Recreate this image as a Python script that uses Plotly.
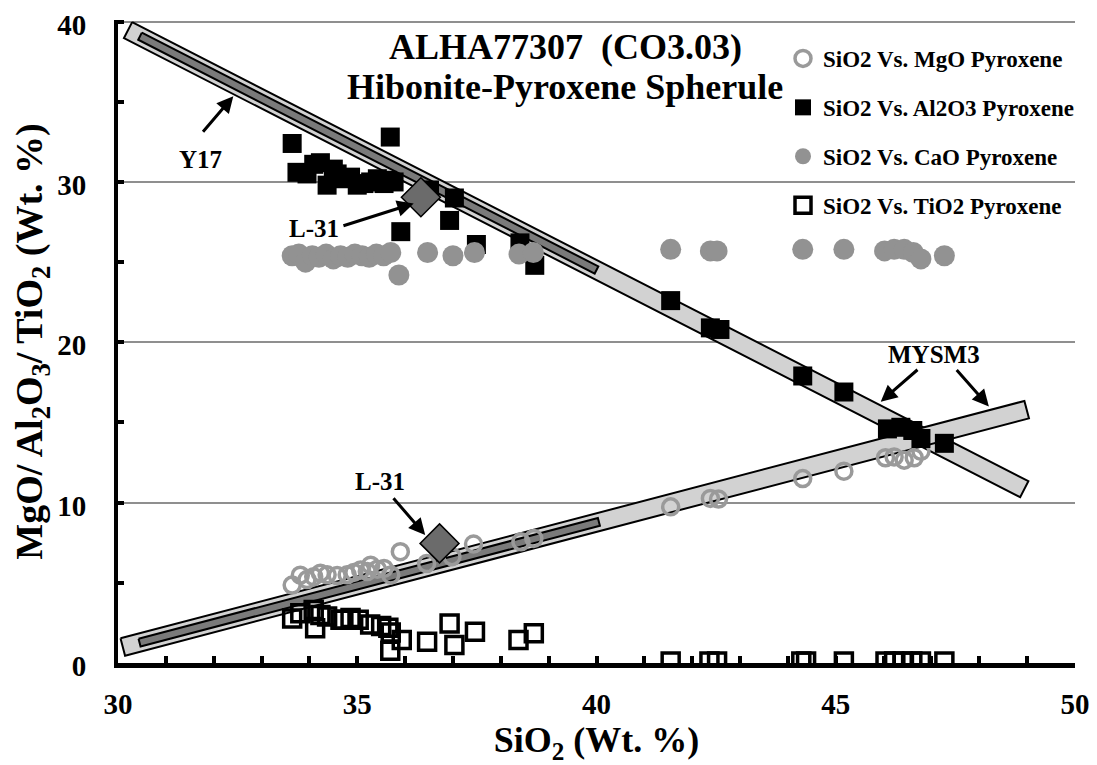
import math
import plotly.graph_objects as go

# ---------------- data ----------------
mgo_x = [33.64, 33.81, 33.95, 34.09, 34.23, 34.37, 34.58, 34.79, 34.93, 35.07, 35.21, 35.28,
         35.42, 35.56, 35.70, 35.90, 36.45, 36.98, 37.43, 38.42, 38.69,
         41.55, 42.38, 42.55, 44.31, 45.17, 46.04, 46.22, 46.43, 46.64, 46.78]
mgo_y = [4.86, 5.48, 5.20, 5.38, 5.60, 5.50, 5.45, 5.50, 5.65, 5.80, 5.70, 6.10,
         5.85, 5.90, 5.49, 6.94, 6.20, 6.63, 7.42, 7.56, 7.77,
         9.74, 10.26, 10.22, 11.50, 11.96, 12.80, 12.85, 12.65, 12.80, 13.20]

al2o3_x = [33.64, 33.74, 33.95, 34.09, 34.23, 34.37, 34.50, 34.58, 34.72, 34.86, 35.00, 35.14,
           35.28, 35.42, 35.56, 35.63, 35.69, 35.77, 35.91, 36.51, 36.93, 37.03, 37.49, 38.40,
           38.71, 41.55, 42.38, 42.58, 44.31, 45.17, 46.08, 46.36, 46.61, 46.78, 47.27]
al2o3_y = [32.4, 30.6, 30.5, 31.1, 31.2, 29.8, 30.8, 30.5, 30.2, 30.3, 29.8, 29.9,
           30.0, 30.2, 29.9, 30.1, 32.8, 30.0, 26.9, 29.5, 27.6, 29.0, 26.1, 26.2,
           24.8, 22.6, 20.9, 20.8, 17.9, 16.9, 14.6, 14.7, 14.5, 14.0, 13.7]

cao_x = [33.64, 33.78, 33.92, 34.06, 34.20, 34.35, 34.50, 34.65, 34.80, 34.95, 35.10, 35.25,
         35.40, 35.55, 35.70, 35.87, 36.47, 37.00, 37.45, 38.38, 38.68,
         41.55, 42.38, 42.52, 44.31, 45.17, 46.02, 46.22, 46.43, 46.62, 46.78, 47.27]
cao_y = [25.4, 25.5, 25.0, 25.4, 25.3, 25.5, 25.2, 25.4, 25.3, 25.5, 25.4, 25.3,
         25.5, 25.4, 25.6, 24.2, 25.6, 25.4, 25.6, 25.5, 25.6,
         25.8, 25.7, 25.7, 25.8, 25.8, 25.7, 25.8, 25.8, 25.6, 25.2, 25.4]

tio2_x = [33.64, 33.81, 34.09, 34.12, 34.23, 34.37, 34.65, 34.71, 34.86, 35.03, 35.27, 35.50,
          35.65, 35.69, 35.70, 35.93, 36.46, 36.93, 37.03, 37.46, 38.37, 38.69,
          41.55, 42.36, 42.52, 44.28, 44.38, 45.17, 46.04, 46.22, 46.40, 46.60, 46.78, 47.27]
tio2_y = [2.78, 3.10, 3.30, 2.16, 3.00, 2.90, 2.70, 2.70, 2.80, 2.70, 2.40, 2.30,
          2.20, 0.77, 1.90, 1.43, 1.33, 2.47, 1.12, 1.95, 1.43, 1.85,
          0.10, 0.10, 0.10, 0.10, 0.10, 0.10, 0.10, 0.10, 0.10, 0.10, 0.10, 0.10]

l31_x = [36.33, 36.72]
l31_y = [29.05, 7.46]

# reference bands (end points of centre lines)
desc_band_x = [30.21, 48.94]
desc_band_y = [39.47, 10.84]
asc_band_x = [30.10, 48.99]
asc_band_y = [1.00, 15.80]
desc_inner_x = [30.46, 40.00]
desc_inner_y = [39.09, 24.51]
asc_inner_x = [30.45, 40.05]
asc_inner_y = [1.27, 8.80]

x_ticks = [30, 35, 40, 45, 50]
y_ticks = [0, 10, 20, 30, 40]

# ---------------- layout geometry ----------------
# the page body has an 8 px margin, so the figure is drawn 8 px in from the corner
FIG_W, FIG_H = 1089, 757
M_L, M_T = 110, 12
PW, PH = 957, 643
M_R = FIG_W - M_L - PW
M_B = FIG_H - M_T - PH
X0, X1, Y0, Y1 = 30, 50, 0, 40.1
PAGE_OFF = 8

FONT = "Liberation Serif"


def band_polygon(xs, ys, width_px):
    """Rectangle of a given pixel thickness around a data-space segment."""
    sx = PW / (X1 - X0)
    sy = PH / (Y1 - Y0)
    ax, ay = (xs[0] - X0) * sx, (ys[0] - Y0) * sy
    bx, by = (xs[1] - X0) * sx, (ys[1] - Y0) * sy
    dx, dy = bx - ax, by - ay
    L = math.hypot(dx, dy)
    nx, ny = -dy / L * width_px / 2, dx / L * width_px / 2
    pts = [(ax + nx, ay + ny), (bx + nx, by + ny), (bx - nx, by - ny), (ax - nx, ay - ny), (ax + nx, ay + ny)]
    return [p[0] / sx + X0 for p in pts], [p[1] / sy + Y0 for p in pts]


def paper_x(page_px):
    return (page_px - PAGE_OFF - M_L) / PW


def paper_y(page_py):
    return (M_T + PH - (page_py - PAGE_OFF)) / PH


fig = go.Figure()

for bx, by, w, fill in [(desc_band_x, desc_band_y, 18, "#d2d2d2"),
                        (asc_band_x, asc_band_y, 18, "#d2d2d2"),
                        (desc_inner_x, desc_inner_y, 8, "#7a7a7a"),
                        (asc_inner_x, asc_inner_y, 8, "#7a7a7a")]:
    px_, py_ = band_polygon(bx, by, w)
    fig.add_trace(go.Scatter(x=px_, y=py_, mode="lines", fill="toself", fillcolor=fill,
                             line=dict(color="black", width=2), showlegend=False, hoverinfo="skip"))

fig.add_trace(go.Scatter(x=mgo_x, y=mgo_y, mode="markers", name="SiO2 Vs. MgO Pyroxene",
                         legendgroup="a",
                         marker=dict(symbol="circle-open", size=16, color="#9a9a9a",
                                     line=dict(width=3.5, color="#9a9a9a"))))
fig.add_trace(go.Scatter(x=al2o3_x, y=al2o3_y, mode="markers", name="SiO2 Vs. Al2O3 Pyroxene",
                         legendgroup="b",
                         marker=dict(symbol="square", size=19, color="black")))
fig.add_trace(go.Scatter(x=cao_x, y=cao_y, mode="markers", name="SiO2 Vs. CaO Pyroxene",
                         legendgroup="c",
                         marker=dict(symbol="circle", size=21, color="#929292")))
fig.add_trace(go.Scatter(x=tio2_x, y=tio2_y, mode="markers", name="SiO2 Vs. TiO2 Pyroxene",
                         legendgroup="d",
                         marker=dict(symbol="square-open", size=17, color="black",
                                     line=dict(width=3.5, color="black"))))
fig.add_trace(go.Scatter(x=l31_x, y=l31_y, mode="markers", showlegend=False,
                         marker=dict(symbol="diamond", size=30, color="#6b6b6b",
                                     line=dict(width=1.5, color="black"))))

ann_font = dict(family=FONT, size=25, color="black", weight="bold")
annotations = [
    dict(x=31.72, y=31.37, text="Y17", showarrow=False, font=ann_font),
    dict(x=34.09, y=27.1, text="L-31", showarrow=False, font=ann_font),
    dict(x=35.48, y=11.3, text="L-31", showarrow=False, font=ann_font),
    dict(x=47.05, y=19.24, text="MYSM3", showarrow=False, font=ann_font),
]
arrows = [
    (31.75, 33.04, 32.41, 35.35),
    (34.68, 27.24, 36.18, 28.66),
    (35.73, 10.37, 36.42, 7.98),
    (46.74, 18.37, 45.94, 16.29),
    (47.50, 18.37, 48.20, 16.0),
]
for tx, ty, hx, hy in arrows:
    annotations.append(dict(x=hx, y=hy, ax=tx, ay=ty, xref="x", yref="y", axref="x", ayref="y",
                            text="", showarrow=True, arrowhead=2, arrowsize=1.1, arrowwidth=3,
                            arrowcolor="black"))

title_font = dict(family=FONT, size=36, color="black", weight="bold")
annotations.append(dict(xref="paper", yref="paper", x=paper_x(565), y=paper_y(47),
                        xanchor="center", yanchor="middle",
                        text="ALHA77307&nbsp; (CO3.03)", showarrow=False, font=title_font))
annotations.append(dict(xref="paper", yref="paper", x=paper_x(565), y=paper_y(87),
                        xanchor="center", yanchor="middle",
                        text="Hibonite-Pyroxene Spherule", showarrow=False, font=title_font))

fig.update_layout(
    width=FIG_W, height=FIG_H,
    margin=dict(l=M_L, r=M_R, t=M_T, b=M_B, autoexpand=False),
    paper_bgcolor="white", plot_bgcolor="white",
    font=dict(family=FONT, color="black"),
    annotations=annotations,
    legend=dict(x=paper_x(783), y=paper_y(37), xanchor="left", yanchor="top", bgcolor="rgba(0,0,0,0)",
                font=dict(family=FONT, size=23, color="black", weight="bold"),
                tracegroupgap=16, itemwidth=30),
    xaxis=dict(range=[X0, X1], tickvals=x_ticks, ticktext=[str(v) for v in x_ticks],
               showgrid=False, zeroline=False, showline=True, linecolor="black", linewidth=5,
               ticks="inside", ticklen=7, tickwidth=3.5, tickcolor="black",
               minor=dict(dtick=1, ticks="inside", ticklen=7, tickwidth=3.5, tickcolor="black", showgrid=False),
               tickfont=dict(family=FONT, size=29, color="black", weight="bold"),
               ticklabelstandoff=11, ticklabeloverflow="allow",
               title=dict(text="SiO<sub>2</sub> (Wt. %)", standoff=18,
                          font=dict(family=FONT, size=36, color="black", weight="bold")),
               automargin=False),
    yaxis=dict(range=[Y0, Y1], tickvals=y_ticks, ticktext=[str(v) for v in y_ticks],
               showgrid=True, gridcolor="#8f8f8f", gridwidth=1.5, zeroline=False,
               showline=True, linecolor="black", linewidth=4,
               ticks="inside", ticklen=6, tickwidth=4, tickcolor="black",
               minor=dict(dtick=5, ticks="inside", ticklen=6, tickwidth=4, tickcolor="black", showgrid=False),
               tickfont=dict(family=FONT, size=29, color="black", weight="bold"),
               ticklabelstandoff=22, ticklabeloverflow="allow", ticklabelshift=3,
               title=dict(text="MgO/ Al<sub>2</sub>O<sub>3</sub>/ TiO<sub>2</sub> (Wt. %)", standoff=4,
                          font=dict(family=FONT, size=38, color="black", weight="bold")),
               automargin=False),
)

fig.write_html("out.html")
